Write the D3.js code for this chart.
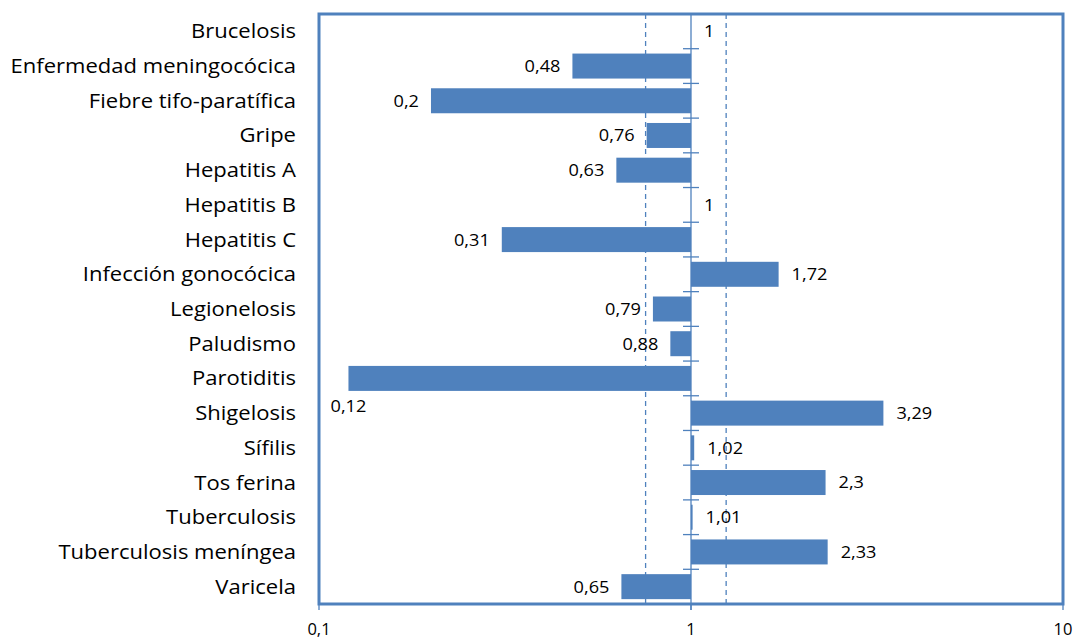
<!DOCTYPE html>
<html>
<head>
<meta charset="utf-8">
<script src="https://cdn.jsdelivr.net/npm/d3@7"></script>
<style>
  html, body { margin: 0; padding: 0; background: #fff; }
  svg { display: block; }
  text { font-family: "Open Sans", Lato, sans-serif; fill: #000; }
</style>
</head>
<body>
<svg id="chart" width="1076" height="639"></svg>
<script>
// Rate ratios by disease (log scale, reference = 1)
const categories = [
  "Brucelosis", "Enfermedad meningocócica", "Fiebre tifo-paratífica", "Gripe",
  "Hepatitis A", "Hepatitis B", "Hepatitis C", "Infección gonocócica",
  "Legionelosis", "Paludismo", "Parotiditis", "Shigelosis", "Sífilis",
  "Tos ferina", "Tuberculosis", "Tuberculosis meníngea", "Varicela"
];
const values = [1, 0.48, 0.2, 0.76, 0.63, 1, 0.31, 1.72, 0.79, 0.88, 0.12, 3.29, 1.02, 2.3, 1.01, 2.33, 0.65];
const xTickValues = [0.1, 1, 10];
const xTickLabels = ["0,1", "1", "10"];
// Reference band drawn as dashed lines
const bandLimits = [0.755, 1.243];

const svg = d3.select("#chart");
const plotL = 319, plotR = 1063, plotT = 14, plotB = 604;
const blue = "#4f81bd";
const fmt = v => String(v).replace(".", ",");

const x = d3.scaleLog().domain([0.1, 10]).range([plotL, plotR]);
const y = d3.scaleBand().domain(categories).range([plotT, plotB]).paddingInner(0.28).paddingOuter(0.14);
const step = y.step();

// dashed reference lines
svg.selectAll("line.ref").data(bandLimits).enter().append("line")
  .attr("x1", d => x(d)).attr("x2", d => x(d))
  .attr("y1", plotT).attr("y2", plotB)
  .attr("stroke", blue).attr("stroke-width", 1.3).attr("stroke-dasharray", "5,4");

// bars from 1
svg.selectAll("rect.bar").data(values).enter().append("rect")
  .attr("x", d => Math.min(x(d), x(1)))
  .attr("width", d => Math.abs(x(d) - x(1)))
  .attr("y", (d, i) => y(categories[i]))
  .attr("height", y.bandwidth())
  .attr("fill", blue);

// vertical axis at 1 with category boundary ticks
svg.append("line").attr("x1", x(1)).attr("x2", x(1)).attr("y1", plotT).attr("y2", plotB + 6)
  .attr("stroke", blue).attr("stroke-width", 1.3);
const bounds = d3.range(1, categories.length).map(k => plotT + k * step);
svg.selectAll("line.ytick").data(bounds).enter().append("line")
  .attr("x1", x(1) - 8).attr("x2", x(1) + 8)
  .attr("y1", d => d).attr("y2", d => d)
  .attr("stroke", blue).attr("stroke-width", 1.3);

// frame
svg.append("rect").attr("x", plotL).attr("y", plotT).attr("width", plotR - plotL).attr("height", plotB - plotT)
  .attr("fill", "none").attr("stroke", blue).attr("stroke-width", 3);

// x axis ticks and labels
svg.selectAll("line.xtick").data(xTickValues).enter().append("line")
  .attr("x1", d => x(d)).attr("x2", d => x(d)).attr("y1", plotB).attr("y2", plotB + 6)
  .attr("stroke", blue).attr("stroke-width", 1.3);
svg.selectAll("text.xlab").data(xTickValues).enter().append("text")
  .attr("x", d => x(d)).attr("y", 635)
  .attr("text-anchor", "middle").attr("font-size", 16.5)
  .text((d, i) => xTickLabels[i]);

// category labels (slightly widened glyphs)
svg.selectAll("text.cat").data(categories).enter().append("text")
  .attr("transform", d => `translate(296,${y(d) + y.bandwidth() / 2}) scale(1.13,1)`)
  .attr("dy", "0.36em").attr("text-anchor", "end").attr("font-size", 19.5)
  .text(d => d);

// value labels
svg.selectAll("text.val").data(values).enter().append("text")
  .attr("font-size", 16.5).attr("dy", "0.36em")
  .each(function (d, i) {
    const t = d3.select(this).text(fmt(d));
    const cy = y(categories[i]) + y.bandwidth() / 2;
    let tx, ty, anchor;
    if (d >= 1) {
      tx = x(d) + 13; ty = cy; anchor = "start";
    } else if (x(d) - 13 - 40 < plotL) {
      tx = x(d); ty = cy + 28; anchor = "middle";
    } else {
      tx = x(d) - 12; ty = cy; anchor = "end";
    }
    t.attr("transform", `translate(${tx},${ty}) scale(1.1,1)`).attr("text-anchor", anchor);
  });
</script>
</body>
</html>
